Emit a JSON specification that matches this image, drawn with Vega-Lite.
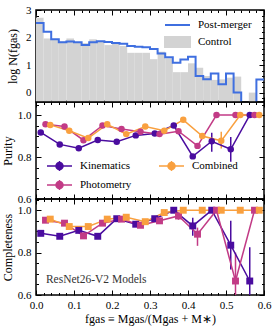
{
  "$schema": "https://vega.github.io/schema/vega-lite/v6.json",
  "padding": {"left": 0, "top": 3, "right": 8, "bottom": 4},
  "background": "white",
  "datasets": {
    "hist": [
      {"bin_start": 0.00, "bin_end": 0.02, "post": 2.53, "control": 2.72},
      {"bin_start": 0.02, "bin_end": 0.04, "post": 2.21, "control": 1.97},
      {"bin_start": 0.04, "bin_end": 0.06, "post": 1.94, "control": 1.93},
      {"bin_start": 0.06, "bin_end": 0.08, "post": 1.83, "control": 1.86},
      {"bin_start": 0.08, "bin_end": 0.10, "post": 1.86, "control": 1.97},
      {"bin_start": 0.10, "bin_end": 0.12, "post": 1.83, "control": 1.84},
      {"bin_start": 0.12, "bin_end": 0.14, "post": 1.73, "control": 1.80},
      {"bin_start": 0.14, "bin_end": 0.16, "post": 1.83, "control": 1.94},
      {"bin_start": 0.16, "bin_end": 0.18, "post": 1.87, "control": 1.86},
      {"bin_start": 0.18, "bin_end": 0.20, "post": 1.84, "control": 1.73},
      {"bin_start": 0.20, "bin_end": 0.22, "post": 1.81, "control": 1.78},
      {"bin_start": 0.22, "bin_end": 0.24, "post": 1.78, "control": 1.70},
      {"bin_start": 0.24, "bin_end": 0.26, "post": 1.70, "control": 1.45},
      {"bin_start": 0.26, "bin_end": 0.28, "post": 1.67, "control": 1.45},
      {"bin_start": 0.28, "bin_end": 0.30, "post": 1.65, "control": 1.45},
      {"bin_start": 0.30, "bin_end": 0.32, "post": 1.59, "control": 1.22},
      {"bin_start": 0.32, "bin_end": 0.34, "post": 1.43, "control": 1.49},
      {"bin_start": 0.34, "bin_end": 0.36, "post": 1.29, "control": 1.25},
      {"bin_start": 0.36, "bin_end": 0.38, "post": 1.09, "control": 0.75},
      {"bin_start": 0.38, "bin_end": 0.40, "post": 1.21, "control": 0.75},
      {"bin_start": 0.40, "bin_end": 0.42, "post": 1.31, "control": 1.07},
      {"bin_start": 0.42, "bin_end": 0.44, "post": 0.61, "control": 0.91},
      {"bin_start": 0.44, "bin_end": 0.46, "post": 0.49, "control": 0.61},
      {"bin_start": 0.46, "bin_end": 0.48, "post": 0.70, "control": 0.47},
      {"bin_start": 0.48, "bin_end": 0.50, "post": 0.31, "control": 0.49},
      {"bin_start": 0.50, "bin_end": 0.52, "post": 0.70, "control": 0.55},
      {"bin_start": 0.52, "bin_end": 0.54, "post": 0.01, "control": 0.59},
      {"bin_start": 0.54, "bin_end": 0.56, "post": -1, "control": null},
      {"bin_start": 0.56, "bin_end": 0.58, "post": -1, "control": 0.01},
      {"bin_start": 0.58, "bin_end": 0.60, "post": 0.48, "control": null}
    ],
    "perf": [
      {"model": "Kinematics", "f": 0.0125, "purity": 0.917, "p_lo": 0.911, "p_hi": 0.923, "compl": 0.891, "c_lo": 0.880, "c_hi": 0.902},
      {"model": "Kinematics", "f": 0.0625, "purity": 0.860, "p_lo": 0.854, "p_hi": 0.866, "compl": 0.877, "c_lo": 0.866, "c_hi": 0.888},
      {"model": "Kinematics", "f": 0.1125, "purity": 0.842, "p_lo": 0.836, "p_hi": 0.848, "compl": 0.905, "c_lo": 0.894, "c_hi": 0.916},
      {"model": "Kinematics", "f": 0.1625, "purity": 0.881, "p_lo": 0.875, "p_hi": 0.887, "compl": 0.877, "c_lo": 0.866, "c_hi": 0.888},
      {"model": "Kinematics", "f": 0.2125, "purity": 0.873, "p_lo": 0.867, "p_hi": 0.879, "compl": 0.960, "c_lo": 0.950, "c_hi": 0.970},
      {"model": "Kinematics", "f": 0.2625, "purity": 0.903, "p_lo": 0.897, "p_hi": 0.909, "compl": 0.934, "c_lo": 0.922, "c_hi": 0.946},
      {"model": "Kinematics", "f": 0.3125, "purity": 0.912, "p_lo": 0.906, "p_hi": 0.918, "compl": 0.960, "c_lo": 0.948, "c_hi": 0.972},
      {"model": "Kinematics", "f": 0.3625, "purity": 0.950, "p_lo": 0.944, "p_hi": 0.956, "compl": 1.0, "c_lo": 0.995, "c_hi": 1.0},
      {"model": "Kinematics", "f": 0.4125, "purity": 0.803, "p_lo": 0.797, "p_hi": 0.809, "compl": 0.926, "c_lo": 0.879, "c_hi": 0.965},
      {"model": "Kinematics", "f": 0.4625, "purity": 0.875, "p_lo": 0.825, "p_hi": 0.915, "compl": 1.0, "c_lo": 0.99, "c_hi": 1.0},
      {"model": "Kinematics", "f": 0.5125, "purity": 0.837, "p_lo": 0.777, "p_hi": 0.895, "compl": 0.835, "c_lo": 0.72, "c_hi": 0.95},
      {"model": "Kinematics", "f": 0.5625, "purity": 1.0, "p_lo": 1.0, "p_hi": 1.0, "compl": 0.666, "c_lo": 0.50, "c_hi": 0.825},
      {"model": "Photometry", "f": 0.025, "purity": 0.956, "p_lo": 0.950, "p_hi": 0.962, "compl": 0.953, "c_lo": 0.942, "c_hi": 0.964},
      {"model": "Photometry", "f": 0.075, "purity": 0.945, "p_lo": 0.939, "p_hi": 0.951, "compl": 0.939, "c_lo": 0.928, "c_hi": 0.950},
      {"model": "Photometry", "f": 0.125, "purity": 0.880, "p_lo": 0.874, "p_hi": 0.886, "compl": 0.879, "c_lo": 0.866, "c_hi": 0.892},
      {"model": "Photometry", "f": 0.175, "purity": 0.950, "p_lo": 0.944, "p_hi": 0.956, "compl": 0.939, "c_lo": 0.928, "c_hi": 0.950},
      {"model": "Photometry", "f": 0.225, "purity": 0.933, "p_lo": 0.927, "p_hi": 0.939, "compl": 0.958, "c_lo": 0.947, "c_hi": 0.969},
      {"model": "Photometry", "f": 0.275, "purity": 0.920, "p_lo": 0.914, "p_hi": 0.926, "compl": 0.929, "c_lo": 0.917, "c_hi": 0.941},
      {"model": "Photometry", "f": 0.325, "purity": 0.909, "p_lo": 0.903, "p_hi": 0.915, "compl": 0.950, "c_lo": 0.938, "c_hi": 0.962},
      {"model": "Photometry", "f": 0.375, "purity": 0.923, "p_lo": 0.917, "p_hi": 0.929, "compl": 0.973, "c_lo": 0.955, "c_hi": 0.990},
      {"model": "Photometry", "f": 0.425, "purity": 0.853, "p_lo": 0.847, "p_hi": 0.859, "compl": 0.887, "c_lo": 0.832, "c_hi": 0.918},
      {"model": "Photometry", "f": 0.475, "purity": 1.0, "p_lo": 1.0, "p_hi": 1.0, "compl": 1.0, "c_lo": 0.99, "c_hi": 1.0},
      {"model": "Photometry", "f": 0.525, "purity": 1.0, "p_lo": 1.0, "p_hi": 1.0, "compl": 0.666, "c_lo": 0.55, "c_hi": 0.80},
      {"model": "Photometry", "f": 0.575, "purity": 1.0, "p_lo": 1.0, "p_hi": 1.0, "compl": 1.0, "c_lo": 1.0, "c_hi": 1.0},
      {"model": "Combined", "f": 0.0375, "purity": 0.953, "p_lo": 0.947, "p_hi": 0.959, "compl": 0.958, "c_lo": 0.950, "c_hi": 0.966},
      {"model": "Combined", "f": 0.0875, "purity": 0.925, "p_lo": 0.919, "p_hi": 0.931, "compl": 0.923, "c_lo": 0.915, "c_hi": 0.931},
      {"model": "Combined", "f": 0.1375, "purity": 0.890, "p_lo": 0.884, "p_hi": 0.896, "compl": 0.923, "c_lo": 0.915, "c_hi": 0.931},
      {"model": "Combined", "f": 0.1875, "purity": 0.956, "p_lo": 0.950, "p_hi": 0.962, "compl": 0.958, "c_lo": 0.950, "c_hi": 0.966},
      {"model": "Combined", "f": 0.2375, "purity": 0.909, "p_lo": 0.903, "p_hi": 0.915, "compl": 0.967, "c_lo": 0.959, "c_hi": 0.975},
      {"model": "Combined", "f": 0.2875, "purity": 0.945, "p_lo": 0.939, "p_hi": 0.951, "compl": 0.946, "c_lo": 0.938, "c_hi": 0.954},
      {"model": "Combined", "f": 0.3375, "purity": 0.925, "p_lo": 0.919, "p_hi": 0.931, "compl": 0.989, "c_lo": 0.983, "c_hi": 0.995},
      {"model": "Combined", "f": 0.3875, "purity": 0.977, "p_lo": 0.971, "p_hi": 0.983, "compl": 1.0, "c_lo": 1.0, "c_hi": 1.0},
      {"model": "Combined", "f": 0.4375, "purity": 0.900, "p_lo": 0.894, "p_hi": 0.906, "compl": 1.0, "c_lo": 1.0, "c_hi": 1.0},
      {"model": "Combined", "f": 0.4875, "purity": 0.877, "p_lo": 0.84, "p_hi": 0.92, "compl": 1.0, "c_lo": 1.0, "c_hi": 1.0},
      {"model": "Combined", "f": 0.5375, "purity": 1.0, "p_lo": 1.0, "p_hi": 1.0, "compl": 1.0, "c_lo": 1.0, "c_hi": 1.0},
      {"model": "Combined", "f": 0.5875, "purity": 1.0, "p_lo": 1.0, "p_hi": 1.0, "compl": 1.0, "c_lo": 1.0, "c_hi": 1.0}
    ]
  },
  "config": {
    "font": "Liberation Serif",
    "view": {"stroke": "black", "strokeWidth": 1.5},
    "axis": {
      "labelFont": "Liberation Serif", "titleFont": "Liberation Serif",
      "labelFontSize": 11, "titleFontSize": 12, "titleFontWeight": "normal",
      "labelColor": "black", "titleColor": "black",
      "domain": false, "grid": false, "tickColor": "black", "tickWidth": 1,
      "labelFlush": false
    },
    "legend": {"labelFont": "Liberation Serif", "labelFontSize": 11, "labelColor": "black", "padding": 0}
  },
  "vconcat": [
    {
      "width": 228, "height": 92,
      "data": {"name": "hist"},
      "resolve": {"axis": {"x": "independent", "y": "independent"}},
      "layer": [
        {
          "mark": {"type": "rect", "clip": true},
          "encoding": {
            "x": {"field": "bin_start", "type": "quantitative", "scale": {"domain": [0, 0.6], "nice": false, "zero": false},
                  "axis": {"orient": "bottom", "values": [0, 0.1, 0.2, 0.3, 0.4, 0.5, 0.6], "tickSize": -5, "labels": false, "title": null}},
            "x2": {"field": "bin_end"},
            "y": {"field": "control", "type": "quantitative", "scale": {"domain": [-0.33, 3], "nice": false, "zero": false},
                  "axis": {"orient": "left", "values": [0, 1, 2, 3], "format": "d", "tickSize": -5, "labelPadding": 10, "title": "log N(fgas)", "titlePadding": 6}},
            "y2": {"datum": -1},
            "color": {"datum": "Control", "type": "nominal",
                      "scale": {"domain": ["Post-merger", "Control"], "range": ["#3f6fe0", "#d3d3d3"]},
                      "legend": {"orient": "none", "legendX": 128, "legendY": 9, "title": null, "symbolSize": 100, "symbolStrokeWidth": 2, "labelOffset": 22, "rowPadding": 3,
                                 "symbolType": "M-1,0H4",
                                 "encode": {"symbols": {"update": {
                                   "shape": {"signal": "datum.value === 'Control' ? 'M-1,-1H4V1H-1Z' : 'M-1,0H4'"},
                                   "fill": {"signal": "datum.value === 'Control' ? '#d3d3d3' : 'transparent'"},
                                   "stroke": {"signal": "datum.value === 'Control' ? 'transparent' : '#3f6fe0'"},
                                   "strokeWidth": {"value": 2}}}}}}
          }
        },
        {
          "transform": [{"fold": ["bin_start", "bin_end"], "as": ["edge", "x"]}],
          "mark": {"type": "line", "clip": true, "strokeWidth": 2},
          "encoding": {
            "x": {"field": "x", "type": "quantitative", "scale": {"domain": [0, 0.6], "nice": false, "zero": false},
                  "axis": {"orient": "top", "values": [0, 0.1, 0.2, 0.3, 0.4, 0.5, 0.6], "tickSize": -5, "labels": false, "title": null}},
            "y": {"field": "post", "type": "quantitative", "scale": {"domain": [-0.33, 3], "nice": false, "zero": false},
                  "axis": {"orient": "right", "values": [0, 1, 2, 3], "tickSize": -5, "labels": false, "title": null}},
            "order": [{"field": "x", "type": "quantitative"}, {"field": "edge", "type": "nominal"}],
            "color": {"datum": "Post-merger", "type": "nominal",
                      "scale": {"domain": ["Post-merger", "Control"], "range": ["#3f6fe0", "#d3d3d3"]},
                      "legend": {"orient": "none", "legendX": 128, "legendY": 9, "title": null, "symbolSize": 100, "symbolStrokeWidth": 2, "labelOffset": 22, "rowPadding": 3,
                                 "symbolType": "M-1,0H4",
                                 "encode": {"symbols": {"update": {
                                   "shape": {"signal": "datum.value === 'Control' ? 'M-1,-1H4V1H-1Z' : 'M-1,0H4'"},
                                   "fill": {"signal": "datum.value === 'Control' ? '#d3d3d3' : 'transparent'"},
                                   "stroke": {"signal": "datum.value === 'Control' ? 'transparent' : '#3f6fe0'"},
                                   "strokeWidth": {"value": 2}}}}}}
          }
        },
        {
          "mark": {"type": "point", "opacity": 0},
          "encoding": {
            "x": {"field": "bin_start", "type": "quantitative", "scale": {"domain": [0, 0.6], "nice": false, "zero": false},
                  "axis": {"orient": "bottom", "values": [0.02,0.04,0.06,0.08,0.12,0.14,0.16,0.18,0.22,0.24,0.26,0.28,0.32,0.34,0.36,0.38,0.42,0.44,0.46,0.48,0.52,0.54,0.56,0.58], "tickSize": -2.5, "labels": false, "title": null}},
            "y": {"field": "control", "type": "quantitative", "scale": {"domain": [-0.33, 3], "nice": false, "zero": false},
                  "axis": {"orient": "left", "values": [-0.2,0.2,0.4,0.6,0.8,1.2,1.4,1.6,1.8,2.2,2.4,2.6,2.8], "tickSize": -2.5, "labels": false, "title": null}}
          }
        },
        {
          "mark": {"type": "point", "opacity": 0},
          "encoding": {
            "x": {"field": "bin_start", "type": "quantitative", "scale": {"domain": [0, 0.6], "nice": false, "zero": false},
                  "axis": {"orient": "top", "values": [0.02,0.04,0.06,0.08,0.12,0.14,0.16,0.18,0.22,0.24,0.26,0.28,0.32,0.34,0.36,0.38,0.42,0.44,0.46,0.48,0.52,0.54,0.56,0.58], "tickSize": -2.5, "labels": false, "title": null}},
            "y": {"field": "control", "type": "quantitative", "scale": {"domain": [-0.33, 3], "nice": false, "zero": false},
                  "axis": {"orient": "right", "values": [-0.2,0.2,0.4,0.6,0.8,1.2,1.4,1.6,1.8,2.2,2.4,2.6,2.8], "tickSize": -2.5, "labels": false, "title": null}}
          }
        }
      ]
    },
    {
      "width": 228, "height": 97,
      "data": {"name": "perf"},
      "resolve": {"axis": {"x": "independent", "y": "independent"}},
      "layer": [
        {
          "mark": {"type": "rule", "clip": true, "strokeWidth": 1.5},
          "encoding": {
            "x": {"field": "f", "type": "quantitative", "scale": {"domain": [0, 0.6], "nice": false, "zero": false},
                  "axis": {"orient": "bottom", "values": [0, 0.1, 0.2, 0.3, 0.4, 0.5, 0.6], "tickSize": -5, "labels": false, "title": null}},
            "y": {"field": "p_lo", "type": "quantitative", "scale": {"domain": [0.6, 1.062], "nice": false, "zero": false},
                  "axis": {"orient": "left", "values": [0.6, 0.8, 1.0], "format": ".1f", "tickSize": -5, "labelPadding": 10, "title": "Purity", "titlePadding": 3}},
            "y2": {"field": "p_hi"},
            "color": {"field": "model", "type": "nominal",
                      "scale": {"domain": ["Kinematics", "Photometry", "Combined"], "range": ["#4a0c9f", "#c23b86", "#f9a03f"]},
                      "legend": {"orient": "none", "legendX": 10, "legendY": 58, "title": null, "columns": 2, "columnPadding": 24, "rowPadding": 3,
                                 "symbolSize": 100, "symbolStrokeWidth": 1.5, "labelOffset": 22,
                                 "symbolType": "M-1,0H4M1.5,-1V1M0.8,0A0.7,0.7,0,1,0,2.2,0A0.7,0.7,0,1,0,0.8,0Z",
                                 "encode": {"symbols": {"update": {
                                   "fill": {"signal": "datum.value === 'Kinematics' ? '#4a0c9f' : datum.value === 'Combined' ? '#f9a03f' : '#c23b86'"},
                                   "stroke": {"signal": "datum.value === 'Kinematics' ? '#4a0c9f' : datum.value === 'Combined' ? '#f9a03f' : '#c23b86'"},
                                   "strokeWidth": {"value": 1.5}}}}}}
          }
        },
        {
          "mark": {"type": "line", "strokeWidth": 1.5, "clip": true},
          "encoding": {
            "x": {"field": "f", "type": "quantitative", "scale": {"domain": [0, 0.6], "nice": false, "zero": false},
                  "axis": {"orient": "top", "values": [0, 0.1, 0.2, 0.3, 0.4, 0.5, 0.6], "tickSize": -5, "labels": false, "title": null}},
            "y": {"field": "purity", "type": "quantitative", "scale": {"domain": [0.6, 1.062], "nice": false, "zero": false},
                  "axis": {"orient": "right", "values": [0.6, 0.8, 1.0], "tickSize": -5, "labels": false, "title": null}},
            "color": {"field": "model", "type": "nominal", "scale": {"domain": ["Kinematics", "Photometry", "Combined"], "range": ["#4a0c9f", "#c23b86", "#f9a03f"]}, "legend": null}
          }
        },
        {
          "mark": {"type": "point", "filled": true, "shape": "circle", "size": 42, "opacity": 1, "clip": true},
          "encoding": {
            "x": {"field": "f", "type": "quantitative", "scale": {"domain": [0, 0.6], "nice": false, "zero": false},
                  "axis": {"orient": "bottom", "values": [0.02,0.04,0.06,0.08,0.12,0.14,0.16,0.18,0.22,0.24,0.26,0.28,0.32,0.34,0.36,0.38,0.42,0.44,0.46,0.48,0.52,0.54,0.56,0.58], "tickSize": -2.5, "labels": false, "title": null}},
            "y": {"field": "purity", "type": "quantitative", "scale": {"domain": [0.6, 1.062], "nice": false, "zero": false},
                  "axis": {"orient": "left", "values": [0.65, 0.7, 0.75, 0.85, 0.9, 0.95, 1.05], "tickSize": -2.5, "labels": false, "title": null}},
            "color": {"field": "model", "type": "nominal", "scale": {"domain": ["Kinematics", "Photometry", "Combined"], "range": ["#4a0c9f", "#c23b86", "#f9a03f"]}, "legend": null}
          }
        },
        {
          "mark": {"type": "point", "opacity": 0},
          "encoding": {
            "x": {"field": "f", "type": "quantitative", "scale": {"domain": [0, 0.6], "nice": false, "zero": false},
                  "axis": {"orient": "top", "values": [0.02,0.04,0.06,0.08,0.12,0.14,0.16,0.18,0.22,0.24,0.26,0.28,0.32,0.34,0.36,0.38,0.42,0.44,0.46,0.48,0.52,0.54,0.56,0.58], "tickSize": -2.5, "labels": false, "title": null}},
            "y": {"field": "purity", "type": "quantitative", "scale": {"domain": [0.6, 1.062], "nice": false, "zero": false},
                  "axis": {"orient": "right", "values": [0.65, 0.7, 0.75, 0.85, 0.9, 0.95, 1.05], "tickSize": -2.5, "labels": false, "title": null}}
          }
        }
      ]
    },
    {
      "width": 228, "height": 96,
      "data": {"name": "perf"},
      "resolve": {"axis": {"x": "independent", "y": "independent"}},
      "layer": [
        {
          "mark": {"type": "rule", "clip": true, "strokeWidth": 1.5},
          "encoding": {
            "x": {"field": "f", "type": "quantitative", "scale": {"domain": [0, 0.6], "nice": false, "zero": false},
                  "axis": {"orient": "bottom", "values": [0, 0.1, 0.2, 0.3, 0.4, 0.5, 0.6], "format": ".1f", "tickSize": -5, "labelPadding": 9, "title": "fgas ≡ Mgas/(Mgas + M∗)", "titlePadding": 3}},
            "y": {"field": "c_lo", "type": "quantitative", "scale": {"domain": [0.6, 1.053], "nice": false, "zero": false},
                  "axis": {"orient": "left", "values": [0.6, 0.8, 1.0], "format": ".1f", "tickSize": -5, "labelPadding": 10, "title": "Completeness", "titlePadding": 3}},
            "y2": {"field": "c_hi"},
            "color": {"field": "model", "type": "nominal",
                      "scale": {"domain": ["Kinematics", "Photometry", "Combined"], "range": ["#4a0c9f", "#c23b86", "#f9a03f"]},
                      "legend": null}
          }
        },
        {
          "mark": {"type": "line", "strokeWidth": 1.5, "clip": true},
          "encoding": {
            "x": {"field": "f", "type": "quantitative", "scale": {"domain": [0, 0.6], "nice": false, "zero": false},
                  "axis": {"orient": "top", "values": [0, 0.1, 0.2, 0.3, 0.4, 0.5, 0.6], "tickSize": -5, "labels": false, "title": null}},
            "y": {"field": "compl", "type": "quantitative", "scale": {"domain": [0.6, 1.053], "nice": false, "zero": false},
                  "axis": {"orient": "right", "values": [0.6, 0.8, 1.0], "tickSize": -5, "labels": false, "title": null}},
            "color": {"field": "model", "type": "nominal", "scale": {"domain": ["Kinematics", "Photometry", "Combined"], "range": ["#4a0c9f", "#c23b86", "#f9a03f"]}, "legend": null}
          }
        },
        {
          "mark": {"type": "point", "filled": true, "shape": "square", "size": 48, "opacity": 1, "clip": true},
          "encoding": {
            "x": {"field": "f", "type": "quantitative", "scale": {"domain": [0, 0.6], "nice": false, "zero": false},
                  "axis": {"orient": "bottom", "values": [0.02,0.04,0.06,0.08,0.12,0.14,0.16,0.18,0.22,0.24,0.26,0.28,0.32,0.34,0.36,0.38,0.42,0.44,0.46,0.48,0.52,0.54,0.56,0.58], "tickSize": -2.5, "labels": false, "title": null}},
            "y": {"field": "compl", "type": "quantitative", "scale": {"domain": [0.6, 1.053], "nice": false, "zero": false},
                  "axis": {"orient": "left", "values": [0.65, 0.7, 0.75, 0.85, 0.9, 0.95, 1.05], "tickSize": -2.5, "labels": false, "title": null}},
            "color": {"field": "model", "type": "nominal", "scale": {"domain": ["Kinematics", "Photometry", "Combined"], "range": ["#4a0c9f", "#c23b86", "#f9a03f"]}, "legend": null}
          }
        },
        {
          "data": {"values": [{"label": "ResNet26-V2 Models", "fx": 0.026, "cy": 0.671}]},
          "mark": {"type": "text", "align": "left", "baseline": "middle", "fontSize": 11.5, "color": "#333333"},
          "encoding": {
            "x": {"field": "fx", "type": "quantitative", "scale": {"domain": [0, 0.6], "nice": false, "zero": false},
                  "axis": {"orient": "top", "values": [0.02,0.04,0.06,0.08,0.12,0.14,0.16,0.18,0.22,0.24,0.26,0.28,0.32,0.34,0.36,0.38,0.42,0.44,0.46,0.48,0.52,0.54,0.56,0.58], "tickSize": -2.5, "labels": false, "title": null}},
            "y": {"field": "cy", "type": "quantitative", "scale": {"domain": [0.6, 1.053], "nice": false, "zero": false},
                  "axis": {"orient": "right", "values": [0.65, 0.7, 0.75, 0.85, 0.9, 0.95, 1.05], "tickSize": -2.5, "labels": false, "title": null}},
            "text": {"field": "label", "type": "nominal"}
          }
        }
      ]
    }
  ],
  "spacing": 0,
  "bounds": "flush",
  "resolve": {"scale": {"color": "independent", "x": "independent", "y": "independent"}, "legend": {"color": "independent"}}
}
